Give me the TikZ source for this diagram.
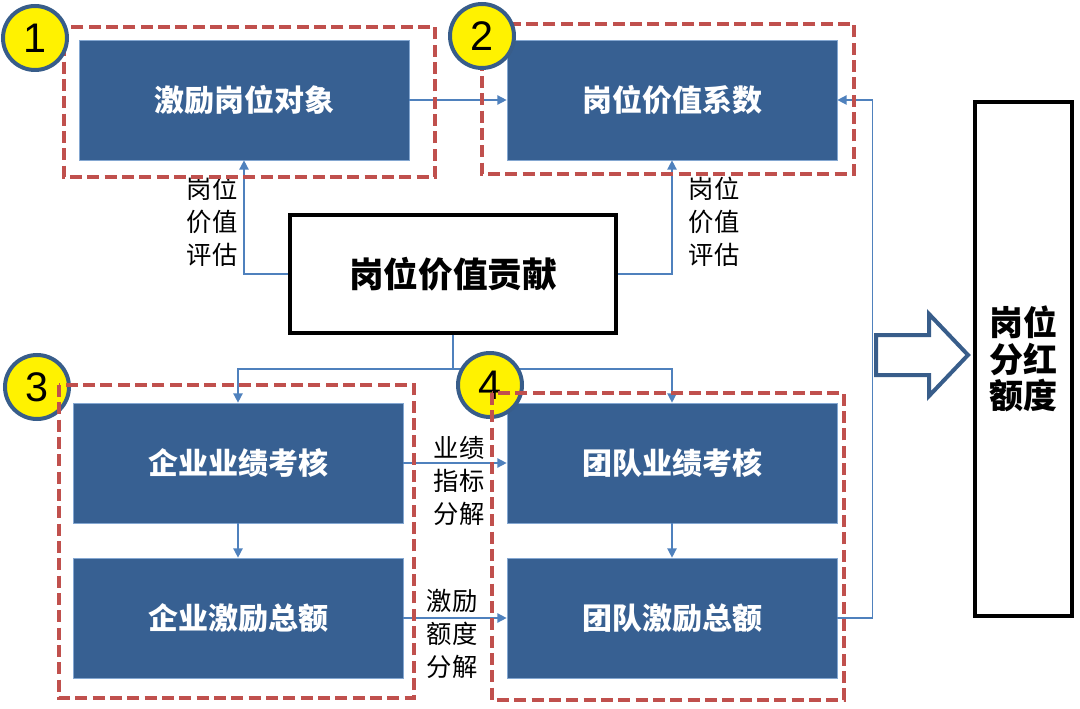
\documentclass[tikz,border=0pt]{standalone}
\usepackage{fontspec}
\setmainfont{Liberation Sans}
\newfontfamily\cjk{Noto Sans CJK SC}
\usepackage{tikz}
\usetikzlibrary{arrows.meta}
\definecolor{boxblue}{RGB}{55,96,146}
\definecolor{linkblue}{RGB}{79,129,189}
\definecolor{framered}{RGB}{192,80,77}
\definecolor{ringblue}{RGB}{56,93,138}
\tikzset{
    bluebox/.style={
        fill=boxblue,
        draw=linkblue!70,
        line width=0.5pt,
        minimum width=247.5pt,
        minimum height=90pt,
        inner sep=0pt,
        text=white,
        font=\cjk\bfseries\fontsize{22.5}{26}\selectfont
    },
    % 虚线框
    redframe/.style={
        framered,
        line width=3.2pt,
        dash pattern=on 9pt off 4pt
    },
    numring/.style={
        circle,
        fill=yellow,
        draw=ringblue,
        line width=3pt,
        minimum size=48pt,
        inner sep=0pt,
        font=\fontsize{31}{31}\selectfont
    },
    link/.style={
        linkblue,
        line width=1.1pt,
        ->,
        >={Triangle[length=7pt, width=7pt]}
    },
    steplabel/.style={
        align=center,
        inner sep=0pt,
        font=\cjk\fontsize{19}{24.75}\selectfont
    }
}

\begin{document}
\begin{tikzpicture}[x=0.75pt, y=-0.75pt]
	\useasboundingbox (0,0) rectangle (1080,709);

	\node[bluebox] (jlgw) at (244,100) {激励岗位对象};
	\node[bluebox] (gwxs) at (672,100) {岗位价值系数};
	\node[bluebox] (qyyj) at (238,463) {企业业绩考核};
	\node[bluebox] (qyze) at (238,618) {企业激励总额};
	\node[bluebox] (tdyj) at (672,463) {团队业绩考核};
	\node[bluebox] (tdze) at (672,618) {团队激励总额};

	\node[draw, line width=3pt, fill=white, minimum width=245pt, minimum height=88pt,
	      font=\cjk\bfseries\fontsize{26}{30}\selectfont] (gxgx) at (453,274) {岗位价值贡献};
	\node[draw, line width=3pt, fill=white, minimum width=73pt, minimum height=386pt, align=center,
	      font=\cjk\bfseries\fontsize{25.5}{27.5}\selectfont] (fhed) at (1023.5,359) {岗位\\分红\\额度};

	\coordinate (split) at (453,369);

	\draw[link] (jlgw) -- (gwxs);
	\draw[link] (gxgx.west) -| (jlgw.south);
	\draw[link] (gxgx.east) -| (gwxs.south);
	\draw[linkblue, line width=1.1pt] (gxgx.south) -- (split);
	\draw[link] (split) -| (qyyj.north);
	\draw[link] (split) -| (tdyj.north);
	\draw[link] (qyyj) -- (qyze);
	\draw[link] (tdyj) -- (tdze);
	\draw[link] (qyyj) -- (tdyj);
	\draw[link] (qyze) -- (tdze);
	\draw[link] (tdze.east) -- ++(35,0) |- (gwxs.east);

	\node[steplabel] (pg1) at (212,222) {岗位\\价值\\评估};
	\node[steplabel] (pg2) at (714,222) {岗位\\价值\\评估};
	\node[steplabel] (zbfj) at (459,481) {业绩\\指标\\分解};
	\node[steplabel] (edfj) at (452,634) {激励\\额度\\分解};

	\draw[redframe] (64,27) rectangle (435,177);
	\draw[redframe] (482,24) rectangle (854,174);

	\node[numring] (n1) at (35,38) {1};
	\node[numring] (n2) at (482,36) {2};
	\node[numring] (n3) at (37,387) {3};
	\node[numring] (n4) at (490,385) {4};

	\draw[redframe] (59,385) rectangle (414,698);
	\draw[redframe] (492,393) rectangle (844,700);

	\draw[ringblue, line width=3pt, fill=white, line join=miter]
		(876,335) -- (929,335) -- (929,314) -- (968,355) -- (929,396) -- (929,375) -- (876,375) -- cycle;
\end{tikzpicture}
\end{document}
